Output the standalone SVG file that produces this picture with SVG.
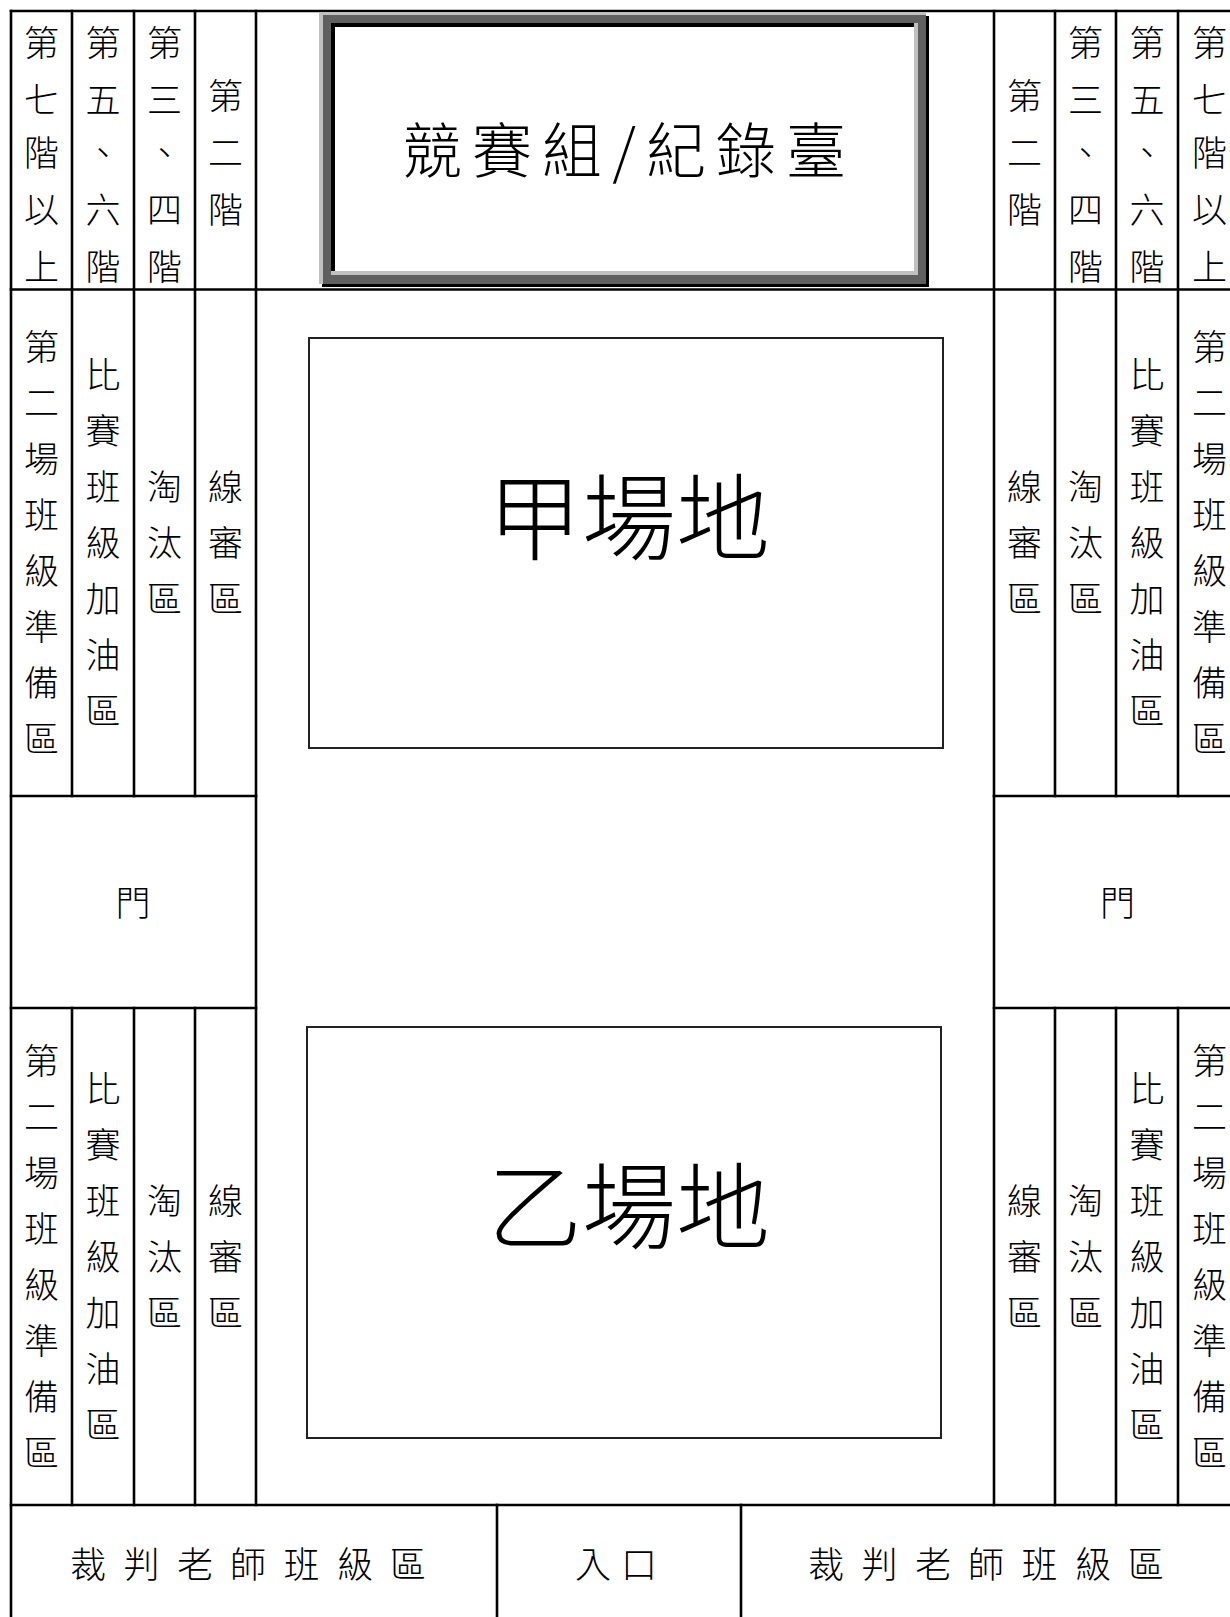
<svg xmlns="http://www.w3.org/2000/svg" width="1230" height="1617" viewBox="0 0 1230 1617">
<style>
  text { font-family: "Noto Sans CJK TC", "Noto Sans CJK SC", sans-serif; fill: #000; text-anchor: middle; font-weight: 300; }
  .v { font-size: 35px; }
  .b { font-size: 36px; }
  .big { font-size: 94px; }
  .ttl { font-size: 60px; }
  .grid { stroke: #000; stroke-width: 2.6; fill: none; stroke-linecap: square; }
  .field { fill: #fff; stroke: #222; stroke-width: 2; }
</style>
<rect x="0" y="0" width="1230" height="1617" fill="#fff"/>

<g id="grid" class="grid">
  <!-- horizontal -->
  <line x1="11" y1="11" x2="1241" y2="11"/>
  <line x1="11" y1="289.5" x2="1241" y2="289.5"/>
  <line x1="11" y1="796" x2="256" y2="796"/>
  <line x1="994" y1="796" x2="1241" y2="796"/>
  <line x1="11" y1="1008" x2="256" y2="1008"/>
  <line x1="994" y1="1008" x2="1241" y2="1008"/>
  <line x1="11" y1="1505" x2="1241" y2="1505"/>
  <!-- left verticals -->
  <line x1="11" y1="11" x2="11" y2="1630"/>
  <line x1="72" y1="11" x2="72" y2="796"/>
  <line x1="72" y1="1008" x2="72" y2="1505"/>
  <line x1="134" y1="11" x2="134" y2="796"/>
  <line x1="134" y1="1008" x2="134" y2="1505"/>
  <line x1="195" y1="11" x2="195" y2="796"/>
  <line x1="195" y1="1008" x2="195" y2="1505"/>
  <line x1="256" y1="11" x2="256" y2="1505"/>
  <!-- right verticals -->
  <line x1="994" y1="11" x2="994" y2="1505"/>
  <line x1="1055" y1="11" x2="1055" y2="796"/>
  <line x1="1055" y1="1008" x2="1055" y2="1505"/>
  <line x1="1116" y1="11" x2="1116" y2="796"/>
  <line x1="1116" y1="1008" x2="1116" y2="1505"/>
  <line x1="1178" y1="11" x2="1178" y2="796"/>
  <line x1="1178" y1="1008" x2="1178" y2="1505"/>
  <line x1="1241" y1="11" x2="1241" y2="1630"/>
  <!-- bottom row dividers -->
  <line x1="497" y1="1505" x2="497" y2="1630"/>
  <line x1="741" y1="1505" x2="741" y2="1630"/>
</g>

<g id="record-table">
  <rect x="322" y="16" width="607" height="271" fill="#000"/>
  <rect x="319" y="13" width="607" height="271" fill="#c0c0c0"/>
  <rect x="323" y="15" width="603" height="269" fill="#606060"/>
  <rect x="331" y="23" width="587" height="252" fill="#c0c0c0"/>
  <rect x="331" y="23" width="583" height="248" fill="#000"/>
  <rect x="335" y="27" width="579" height="244" fill="#fff"/>
  <text class="ttl" x="624" y="173" textLength="444" lengthAdjust="spacing">競賽組/紀錄臺</text>
</g>

<g id="field-a">
  <rect class="field" x="309" y="338" width="634" height="410"/>
  <text class="big" x="629" y="553">甲場地</text>
</g>

<g id="field-b">
  <rect class="field" x="307" y="1027" width="634" height="411"/>
  <text class="big" x="629" y="1242">乙場地</text>
</g>

<g id="floors-left">
  <text class="v" x="41.5 41.5 41.5 41.5 41.5" y="56 113 166 223 280">第七階以上</text>
  <text class="v" x="103 103 103 103 103" y="56 113 166 223 280">第五、六階</text>
  <text class="v" x="164.5 164.5 164.5 164.5 164.5" y="56 113 166 223 280">第三、四階</text>
  <text class="v" x="225.5 225.5 225.5" y="109 166 223">第二階</text>
</g>

<g id="floors-right">
  <text class="v" x="1024.5 1024.5 1024.5" y="109 166 223">第二階</text>
  <text class="v" x="1085.5 1085.5 1085.5 1085.5 1085.5" y="56 113 166 223 280">第三、四階</text>
  <text class="v" x="1147 1147 1147 1147 1147" y="56 113 166 223 280">第五、六階</text>
  <text class="v" x="1209.5 1209.5 1209.5 1209.5 1209.5" y="56 113 166 223 280">第七階以上</text>
</g>

<g id="zones-top-left">
  <text class="v" x="41.5 41.5 41.5 41.5 41.5 41.5 41.5 41.5" y="360 416 472 528 584 640 696 752">第二場班級準備區</text>
  <text class="v" x="103 103 103 103 103 103 103" y="388 444 500 556 612 668 724">比賽班級加油區</text>
  <text class="v" x="164.5 164.5 164.5" y="500 556 612">淘汰區</text>
  <text class="v" x="225.5 225.5 225.5" y="500 556 612">線審區</text>
</g>

<g id="zones-top-right">
  <text class="v" x="1024.5 1024.5 1024.5" y="500 556 612">線審區</text>
  <text class="v" x="1085.5 1085.5 1085.5" y="500 556 612">淘汰區</text>
  <text class="v" x="1147 1147 1147 1147 1147 1147 1147" y="388 444 500 556 612 668 724">比賽班級加油區</text>
  <text class="v" x="1209.5 1209.5 1209.5 1209.5 1209.5 1209.5 1209.5 1209.5" y="360 416 472 528 584 640 696 752">第二場班級準備區</text>
</g>

<g id="door-left">
  <text class="v" x="133" y="916">門</text>
</g>
<g id="door-right">
  <text class="v" x="1117.5" y="916">門</text>
</g>

<g id="zones-bottom-left">
  <text class="v" x="41.5 41.5 41.5 41.5 41.5 41.5 41.5 41.5" y="1074 1130 1186 1242 1298 1354 1410 1466">第二場班級準備區</text>
  <text class="v" x="103 103 103 103 103 103 103" y="1102 1158 1214 1270 1326 1382 1438">比賽班級加油區</text>
  <text class="v" x="164.5 164.5 164.5" y="1214 1270 1326">淘汰區</text>
  <text class="v" x="225.5 225.5 225.5" y="1214 1270 1326">線審區</text>
</g>

<g id="zones-bottom-right">
  <text class="v" x="1024.5 1024.5 1024.5" y="1214 1270 1326">線審區</text>
  <text class="v" x="1085.5 1085.5 1085.5" y="1214 1270 1326">淘汰區</text>
  <text class="v" x="1147 1147 1147 1147 1147 1147 1147" y="1102 1158 1214 1270 1326 1382 1438">比賽班級加油區</text>
  <text class="v" x="1209.5 1209.5 1209.5 1209.5 1209.5 1209.5 1209.5 1209.5" y="1074 1130 1186 1242 1298 1354 1410 1466">第二場班級準備區</text>
</g>

<g id="referee-left">
  <text class="b" x="88 141.5 195 248 301.5 355 408" y="1578">裁判老師班級區</text>
</g>
<g id="entrance">
  <text class="b" x="593 639" y="1578">入口</text>
</g>
<g id="referee-right">
  <text class="b" x="826 879.5 933 986 1039.5 1093 1146" y="1578">裁判老師班級區</text>
</g>
</svg>
